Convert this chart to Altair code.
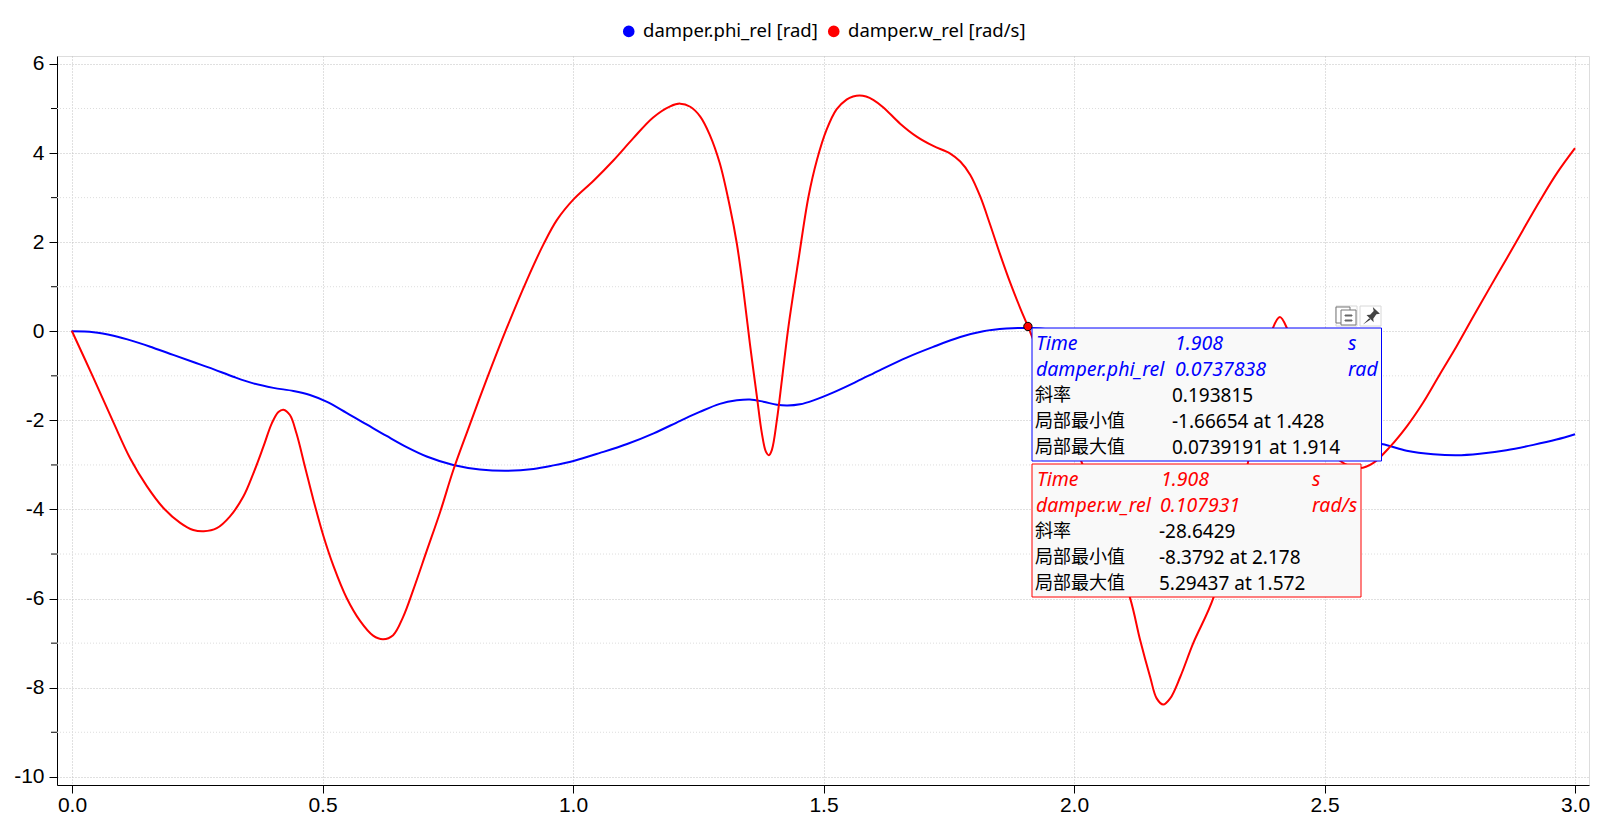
import altair as alt
import pandas as pd

FONT = "Noto Sans, Noto Sans CJK SC"
CJK = "Noto Sans CJK SC"
TICK_FONT = "Liberation Sans"

phi_t = [0,.043,.083,.122,.162,.202,.242,.282,.322,.362,.402,.442,.475,.508,.548,.588,.628,.668,.708,.761,.814,.868,.921,.961,1.001,1.054,1.108,1.161,1.214,1.253,1.293,1.327,1.353,1.38,1.407,1.428,1.453,1.48,1.52,1.566,1.613,1.666,1.719,1.773,1.819,1.865,1.908,1.95,2.0,2.1,2.2,2.3,2.4,2.5,2.614,2.664,2.717,2.764,2.81,2.863,2.917,2.963,3.0]
phi_v = [0,-.02,-.10,-.22,-.37,-.53,-.69,-.85,-1.02,-1.17,-1.27,-1.34,-1.43,-1.58,-1.83,-2.09,-2.35,-2.6,-2.81,-3.0,-3.1,-3.13,-3.09,-3.01,-2.91,-2.73,-2.53,-2.29,-2.01,-1.81,-1.63,-1.55,-1.53,-1.58,-1.65,-1.667,-1.64,-1.55,-1.37,-1.13,-.87,-.59,-.35,-.13,0,.06,.0738,.04,-.12,-.6,-1.15,-1.7,-2.15,-2.4,-2.53,-2.68,-2.76,-2.785,-2.75,-2.67,-2.55,-2.43,-2.31]

w_t = [0,.043,.0825,.116,.149,.182,.216,.242,.263,.289,.315,.342,.362,.382,.399,.412,.422,.435,.448,.465,.482,.502,.522,.548,.575,.601,.621,.641,.661,.681,.708,.735,.761,.788,.828,.868,.908,.941,.968,1.001,1.041,1.081,1.12,1.16,1.194,1.214,1.234,1.254,1.273,1.293,1.313,1.327,1.34,1.353,1.367,1.377,1.385,1.391,1.397,1.407,1.417,1.43,1.45,1.47,1.487,1.506,1.526,1.546,1.559,1.572,1.585,1.6,1.619,1.653,1.686,1.719,1.753,1.773,1.793,1.813,1.833,1.853,1.873,1.893,1.908,1.95,1.98,2.016,2.06,2.112,2.132,2.152,2.165,2.178,2.192,2.212,2.238,2.278,2.32,2.347,2.37,2.397,2.411,2.425,2.44,2.47,2.5,2.53,2.571,2.597,2.631,2.664,2.697,2.73,2.764,2.797,2.83,2.864,2.896,2.93,2.964,3.0]
w_v = [0,-1.05,-2.04,-2.85,-3.47,-3.96,-4.30,-4.46,-4.49,-4.42,-4.16,-3.71,-3.19,-2.59,-2.06,-1.81,-1.76,-1.88,-2.29,-3.04,-3.79,-4.6,-5.27,-5.98,-6.5,-6.83,-6.91,-6.82,-6.41,-5.81,-4.93,-4.05,-3.12,-2.28,-1.07,.08,1.15,1.95,2.5,2.96,3.38,3.84,4.33,4.80,5.05,5.11,5.04,4.82,4.41,3.77,2.8,1.97,.93,-.27,-1.46,-2.29,-2.7,-2.78,-2.66,-1.99,-1.09,.1,1.6,3.02,3.85,4.52,4.98,5.2,5.27,5.294,5.27,5.19,5.03,4.66,4.37,4.16,3.99,3.81,3.51,3.02,2.38,1.71,1.08,.51,.108,-1.1,-2.0,-2.96,-4.3,-5.99,-6.93,-7.76,-8.24,-8.379,-8.24,-7.76,-7.0,-5.99,-4.2,-2.96,-1.5,.07,.32,.07,-.5,-1.6,-2.4,-2.9,-3.07,-2.96,-2.59,-2.14,-1.6,-.97,-.33,.33,.98,1.64,2.27,2.93,3.55,4.11]

PHI = "damper.phi_rel [rad]"
W = "damper.w_rel [rad/s]"
COLORS = ["#0000ff", "#ff0000"]

x_ticks = [0, .5, 1, 1.5, 2, 2.5, 3]
y_major = [-10, -8, -6, -4, -2, 0, 2, 4, 6]
y_minor = [-9, -7, -5, -3, -1, 1, 3, 5]

X_DOMAIN = [-0.02994, 3.02794]
Y_DOMAIN = [-10.184, 6.179]
LEFT, TOP, W_PX, H_PX = 57, 56, 1532, 729

df = pd.concat([
    pd.DataFrame({"t": phi_t, "v": phi_v, "s": PHI}),
    pd.DataFrame({"t": w_t, "v": w_v, "s": W}),
])

xs = alt.Scale(domain=X_DOMAIN, nice=False, zero=False)
ys = alt.Scale(domain=Y_DOMAIN, nice=False, zero=False)
x_enc = alt.X("t:Q", scale=xs, title=None, axis=alt.Axis(
    values=x_ticks, format=".1f", grid=True, gridColor="#c0c0c0", gridDash=[1, 2],
    tickSize=8, tickColor="#000", domainColor="#000", labelPadding=1,
    labelFont=TICK_FONT, labelFontSize=21, labelColor="#000"))
y_enc = alt.Y("v:Q", scale=ys, title=None, axis=alt.Axis(
    values=y_major, grid=True, gridColor="#c0c0c0", gridDash=[1, 2],
    tickSize=8, tickColor="#000", domainColor="#000", labelPadding=5,
    labelExpr="datum.value < 0 ? '-' + abs(datum.value) : '' + datum.value",
    labelFont=TICK_FONT, labelFontSize=21, labelColor="#000"))

lines = alt.Chart(df).mark_line(strokeWidth=2, interpolate="catmull-rom", clip=True).encode(
    x=x_enc, y=y_enc,
    stroke=alt.Stroke("s:N", scale=alt.Scale(domain=[PHI, W], range=COLORS), legend=None),
)

legend_df = pd.DataFrame({"t": [0, 0], "v": [0, 0], "s": [PHI, W]})
legend_layer = alt.Chart(legend_df).mark_circle(size=3, opacity=1).encode(
    x=alt.X("t:Q", scale=xs), y=alt.Y("v:Q", scale=ys),
    fill=alt.Fill("s:N", scale=alt.Scale(domain=[PHI, W], range=COLORS), legend=alt.Legend(
        title=None, orient="none", legendX=562.5, legendY=-34, direction="horizontal",
        symbolType="circle", symbolSize=135, symbolStrokeWidth=0, labelLimit=400,
        labelFont=FONT, labelFontSize=18.5, labelColor="#000", columnPadding=6,
        labelOffset=5)),
)

minor_df = pd.DataFrame({"v": y_minor})
minor_grid = alt.Chart(minor_df).mark_rule(color="#dddddd", strokeDash=[1, 2], strokeWidth=1).encode(
    y=alt.Y("v:Q", scale=ys), x=alt.value(0), x2=alt.value(W_PX))
minor_tick = alt.Chart(minor_df).mark_rule(color="#000", strokeWidth=1).encode(
    y=alt.Y("v:Q", scale=ys), x=alt.value(-6), x2=alt.value(0))

marker = alt.Chart(pd.DataFrame({"t": [1.908], "v": [0.107931]})).mark_point(
    filled=True, size=70, fill="#ff0000", stroke="#000", strokeWidth=1, opacity=1, shape="circle"
).encode(x=alt.X("t:Q", scale=xs), y=alt.Y("v:Q", scale=ys))

boxes = pd.DataFrame([
    dict(x=1032, x2=1361, y=464, y2=597, c="#ff0000"),
    dict(x=1032, x2=1381.5, y=328, y2=461, c="#0000ff"),
])
for col in ("x", "x2"):
    boxes[col] -= LEFT
for col in ("y", "y2"):
    boxes[col] -= TOP

box_layer = alt.Chart(boxes).mark_rect(fill="#f9f9f9", strokeWidth=1).encode(
    x=alt.X("x:Q", scale=None), x2="x2:Q", y=alt.Y("y:Q", scale=None), y2="y2:Q",
    stroke=alt.Stroke("c:N", scale=None))

italic_rows = [
    ("Time", 1036, 344, "#0000ff"), ("1.908", 1175, 344, "#0000ff"), ("s", 1348, 344, "#0000ff"),
    ("damper.phi_rel", 1036, 370, "#0000ff"), ("0.0737838", 1175, 370, "#0000ff"), ("rad", 1348, 370, "#0000ff"),
    ("Time", 1037, 480, "#ff0000"), ("1.908", 1161, 480, "#ff0000"), ("s", 1312, 480, "#ff0000"),
    ("damper.w_rel", 1036, 506, "#ff0000"), ("0.107931", 1160, 506, "#ff0000"), ("rad/s", 1312, 506, "#ff0000"),
]
plain_rows = [
    ("0.193815", 1172, 396),
    ("-1.66654 at 1.428", 1172, 422),
    ("0.0739191 at 1.914", 1172, 448),
    ("-28.6429", 1159, 532),
    ("-8.3792 at 2.178", 1159, 558),
    ("5.29437 at 1.572", 1159, 584),
]
cjk_rows = [
    ("斜率", 1035, 396), ("局部最小值", 1035, 422), ("局部最大值", 1035, 448),
    ("斜率", 1035, 532), ("局部最小值", 1035, 558), ("局部最大值", 1035, 584),
]
italic_df = pd.DataFrame(italic_rows, columns=["text", "x", "y", "c"])
plain_df = pd.DataFrame(plain_rows, columns=["text", "x", "y"])
cjk_df = pd.DataFrame(cjk_rows, columns=["text", "x", "y"])
for d in (italic_df, plain_df, cjk_df):
    d["x"] -= LEFT
    d["y"] -= TOP

italic_text = alt.Chart(italic_df).mark_text(
    font=FONT, fontSize=19.5, fontStyle="italic", align="left", baseline="middle"
).encode(x=alt.X("x:Q", scale=None), y=alt.Y("y:Q", scale=None), text="text:N",
         color=alt.Color("c:N", scale=None))
plain_text = alt.Chart(plain_df).mark_text(
    font=FONT, fontSize=19, color="#000", align="left", baseline="middle"
).encode(x=alt.X("x:Q", scale=None), y=alt.Y("y:Q", scale=None), text="text:N")
cjk_text = alt.Chart(cjk_df).mark_text(
    font=CJK, fontSize=18, color="#000", align="left", baseline="middle"
).encode(x=alt.X("x:Q", scale=None), y=alt.Y("y:Q", scale=None), text="text:N")

btn = pd.DataFrame([
    dict(x=1336, x2=1357, y=306, y2=326, f="#ffffff", s="#d8d8d8"),
    dict(x=1360, x2=1381, y=306, y2=326, f="#ffffff", s="#d8d8d8"),
    dict(x=1336, x2=1350, y=307, y2=323, f="#ffffff", s="#777777"),
    dict(x=1341, x2=1356, y=310, y2=325, f="#ffffff", s="#777777"),
    dict(x=1345, x2=1352, y=315, y2=316, f="#666666", s="#666666"),
    dict(x=1345, x2=1352, y=320, y2=321, f="#666666", s="#666666"),
])
for col in ("x", "x2"):
    btn[col] -= LEFT
for col in ("y", "y2"):
    btn[col] -= TOP
btn_layer = alt.Chart(btn).mark_rect(strokeWidth=1).encode(
    x=alt.X("x:Q", scale=None), x2="x2:Q", y=alt.Y("y:Q", scale=None), y2="y2:Q",
    fill=alt.Fill("f:N", scale=None), stroke=alt.Stroke("s:N", scale=None))
pin = alt.Chart(pd.DataFrame({"x": [1371 - LEFT], "y": [316 - TOP]})).mark_point(
    shape="M0.2,-1 L1,-0.25 L0.6,-0.2 L0.25,0.3 L0.3,0.7 L-0.5,-0.1 L-0.1,-0.15 L0.3,-0.55 Z M-0.2,0.25 L-0.9,0.95 L-0.05,0.4 Z",
    filled=True, fill="#444444", strokeWidth=0, size=320, opacity=1
).encode(x=alt.X("x:Q", scale=None), y=alt.Y("y:Q", scale=None))

chart = alt.layer(
    minor_grid, lines, legend_layer, minor_tick, marker, btn_layer, pin, box_layer, italic_text, plain_text, cjk_text
).resolve_scale(fill="independent", stroke="independent").properties(
    width=W_PX, height=H_PX,
    padding={"left": 49, "top": 48, "right": 3, "bottom": 36},
    autosize=alt.AutoSizeParams(type="none"),
).configure_view(stroke="#d0d0d0", strokeWidth=2).configure(background="#ffffff")

chart.save("out.html", embed_options={"renderer": "svg", "actions": False})
